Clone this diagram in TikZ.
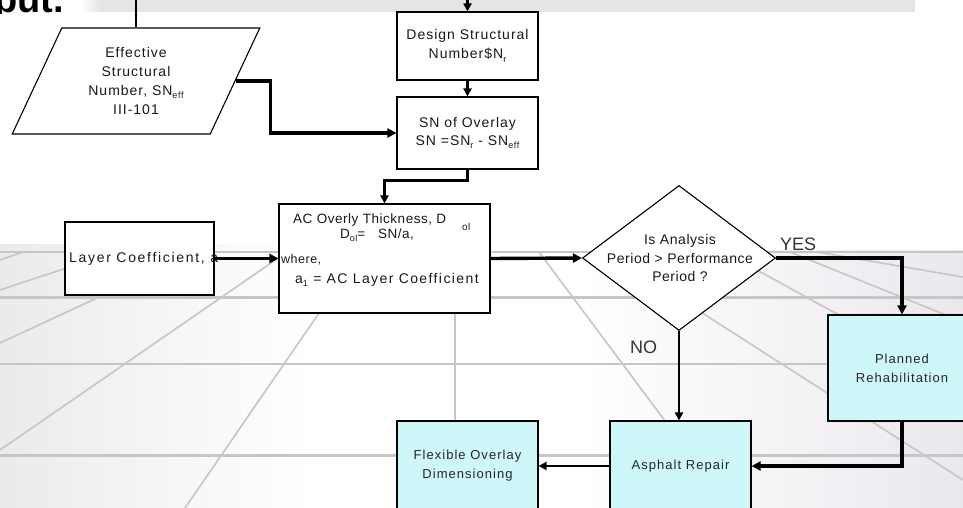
\documentclass[tikz,border=0pt]{standalone}
\usepackage{fontspec}
\setmainfont{Liberation Sans}
\newfontfamily\lsA[LetterSpace=7]{Liberation Sans}
\newfontfamily\lsB[LetterSpace=4]{Liberation Sans}
\newfontfamily\lsC[LetterSpace=12]{Liberation Sans}
\newfontfamily\lsD[LetterSpace=8]{Liberation Sans}
\newfontfamily\lsE[LetterSpace=10]{Liberation Sans}
\usetikzlibrary{shapes.geometric,arrows.meta,calc}
\definecolor{cyanbox}{RGB}{206,247,250}
\definecolor{gridc}{RGB}{198,198,198}
\definecolor{bandc}{RGB}{229,229,229}
\definecolor{txt}{RGB}{25,25,25}
\newcommand\sbs[1]{\raisebox{-0.45ex}{\fontsize{9}{9}\selectfont #1}}
\begin{document}
\begin{tikzpicture}[x=1pt,y=-1pt,
  box/.style={draw=black,line width=1.1pt,fill=white,inner sep=0pt,align=center,text=txt,
    font=\lsA\fontsize{14}{19}\selectfont},
  cbox/.style={box,fill=cyanbox,text=black!85,font=\lsD\fontsize{13}{19}\selectfont},
  plain/.style={inner sep=0pt,text=txt},
  gline/.style={draw=gridc,line width=1.6pt},
  hline/.style={draw=gridc,line width=2.6pt},
  tarrow/.style={line width=3.4pt,-{Triangle[length=9pt,width=9pt]}},
  marrow/.style={line width=2.6pt,-{Triangle[length=8pt,width=8pt]}},
  lbl/.style={plain,anchor=base west,font=\fontsize{18}{18}\selectfont,text=black!80}]
\useasboundingbox (0,0) rectangle (963,508);
\fill[white] (0,0) rectangle (963,508);
% floor shading
\shade[left color=black!8,right color=white] (0,244) rectangle (310,508);
\shade[left color=white,right color={rgb,255:red,234;green,232;blue,237}] (580,250) rectangle (963,508);
% grid
\draw[hline] (0,252) -- (963,252);
\draw[hline,line width=3pt] (0,297) -- (963,297);
\draw[hline] (0,364) -- (963,364);
\draw[hline,line width=3pt] (0,455) -- (963,455);
\draw[gline] (0,260) -- (23,252);
\draw[gline] (0,290) -- (115,252);
\draw[gline] (0,343) -- (196,252);
\draw[gline] (0,450) -- (287,252);
\draw[gline] (185,508) -- (361,252);
\draw[gline] (455,252) -- (455,508);
\draw[gline] (539,252) -- (730,508);
\draw[gline] (607,252) -- (963,480);
\draw[gline] (724,252) -- (963,383);
\draw[gline] (790,252) -- (963,322);
\draw[gline] (817,252) -- (963,277);
% top band
\fill[bandc] (100,0) rectangle (915,12);
\shade[left color=white,right color=bandc] (80,0) rectangle (100.5,12);
\begin{scope}
\clip (0,0) rectangle (200,14);
\node[plain,anchor=base west,text=black,font=\bfseries\fontsize{38}{38}\selectfont] (putt) at (-6,13) {put.};
\end{scope}
% nodes
\node[box,trapezium,trapezium left angle=64.7,trapezium right angle=115.3,trapezium stretches=true,
  minimum width=248pt,minimum height=106pt] (eff) at (136,81)
  {Effective\\Structural\\Number, SN\sbs{eff}\\III-101};
\node[box,minimum width=141pt,minimum height=68pt] (design) at (467.5,46) {Design Structural\\Number\$N\sbs{r}};
\node[box,minimum width=141pt,minimum height=72pt,font=\lsA\fontsize{14}{18}\selectfont] (snov) at (467.5,133) {SN of Overlay\\SN =SN\sbs{r} - SN\sbs{eff}};
\node[box,minimum width=149pt,minimum height=73pt] (layer) at (139.5,258.5) {};
\node[plain,anchor=west,font=\lsC\fontsize{14}{16}\selectfont] (layert) at (69,259) {Layer Coefficient, a};
\node[box,minimum width=211pt,minimum height=109pt] (ac) at (384.5,258.5) {};
\node[plain,anchor=base west,font=\lsB\fontsize{13.5}{15}\selectfont] (ac1) at (293,223) {AC Overly Thickness, D};
\node[plain,anchor=base west,font=\lsB\fontsize{10}{10}\selectfont] (ac1s) at (462,230) {ol};
\node[plain,anchor=base west,font=\lsB\fontsize{13.5}{15}\selectfont] (ac2) at (340,238) {D\sbs{ol}=\ \ \ SN/a,};
\node[plain,anchor=base west,font=\lsB\fontsize{12.5}{13}\selectfont] (ac3) at (281,263) {where,};
\node[plain,anchor=base west,font=\lsE\fontsize{14}{14}\selectfont] (ac4) at (295,283) {a\sbs{1} = AC Layer Coefficient};
\node[draw=black,line width=1.1pt,fill=white,diamond,inner sep=0pt,minimum width=193pt,minimum height=145pt] (dia) at (679,258) {};
\node[plain,align=center,font=\lsB\fontsize{14}{18.5}\selectfont] (diat) at (680,258) {Is Analysis\\Period > Performance\\Period ?};
\node[cbox,minimum width=148pt,minimum height=106pt] (plan) at (902,368) {Planned\\Rehabilitation};
\node[cbox,minimum width=141pt,minimum height=90pt] (asph) at (680.5,466) {Asphalt Repair};
\node[cbox,minimum width=141pt,minimum height=90pt] (flex) at (467.5,466) {Flexible Overlay\\Dimensioning};
\node[lbl] (yes) at (780,250) {YES};
\node[lbl] (no) at (630,353) {NO};
% connectors
\draw[line width=1.6pt] (eff.north) -- ++(0,-30);
\draw[marrow] (design.north) ++(0,-14) -- (design.north);
\draw[marrow] (design.south) -- (snov.north);
\draw[tarrow] (eff.east) -- ++(35,0) |- (snov.west);
\draw[marrow] (snov.south) -- ++(0,11) -| (ac.north);
\draw[tarrow] (layer.east) -- (ac.west);
\draw[tarrow] (ac.east) -- (dia.west);
\draw[tarrow] (dia.east) -| (plan.north);
\draw[marrow] (dia.south) -- (dia.south |- asph.north);
\draw[tarrow] (plan.south) |- (asph.east);
\draw[marrow] (asph.west) -- (flex.east);
\end{tikzpicture}
\end{document}
